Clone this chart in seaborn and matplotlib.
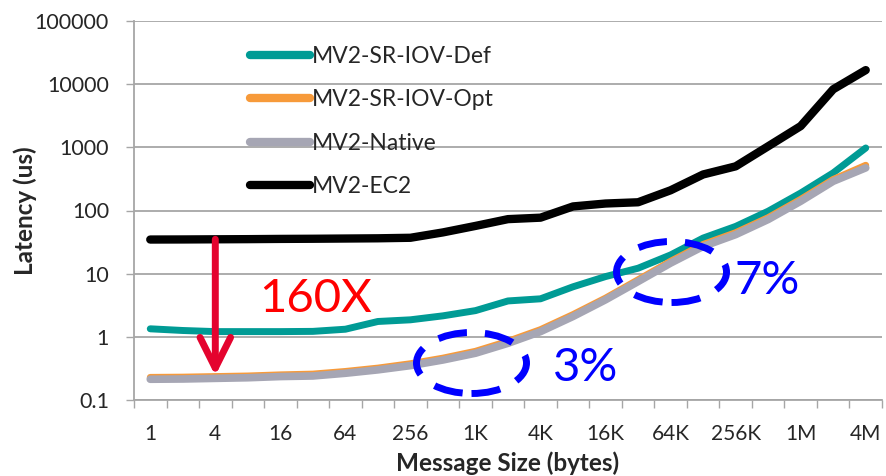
import numpy as np
import pandas as pd
import matplotlib
matplotlib.use("Agg")
import matplotlib.pyplot as plt
import seaborn as sns
from matplotlib.patches import Ellipse

# message sizes (categorical axis)
sizes = ["1", "2", "4", "8", "16", "32", "64", "128", "256", "512",
         "1K", "2K", "4K", "8K", "16K", "32K", "64K", "128K", "256K", "512K",
         "1M", "2M", "4M"]

# latency in us
sriov_def = [1.34, 1.26, 1.21, 1.21, 1.21, 1.22, 1.32, 1.75, 1.86, 2.15,
             2.6, 3.7, 4.0, 6.2, 9.0, 12.2, 19.8, 36.6, 56, 97.5,
             189, 394, 977]
sriov_opt = [0.228, 0.23, 0.235, 0.24, 0.25, 0.257, 0.283, 0.32, 0.375, 0.46,
             0.59, 0.85, 1.3, 2.25, 4.1, 8.0, 15.7, 29, 44.5, 77,
             150, 310, 520]
native = [0.213, 0.215, 0.22, 0.225, 0.235, 0.24, 0.265, 0.3, 0.35, 0.43,
          0.55, 0.79, 1.21, 2.1, 3.86, 7.5, 14.7, 27, 41.5, 72,
          140, 290, 473]
ec2 = [34.7, 34.8, 35, 35.2, 35.5, 35.7, 36, 36.3, 37, 45,
       57, 73, 77, 116, 129, 135, 209, 372, 500, 1040,
       2170, 8300, 16700]

series_names = ["MV2-SR-IOV-Def", "MV2-SR-IOV-Opt", "MV2-Native", "MV2-EC2"]
series_values = [sriov_def, sriov_opt, native, ec2]
colors = ["#009B95", "#F79A3A", "#A6A6B4", "#000000"]
widths = [5.0, 5.0, 5.5, 6.0]

y_ticks = [0.1, 1, 10, 100, 1000, 10000, 100000]
y_ticklabels = ["0.1", "1", "10", "100", "1000", "10000", "100000"]

sns.set_style("white")
plt.rcParams["font.family"] = ["Lato", "DejaVu Sans"]

fig = plt.figure(figsize=(8.86, 4.76), dpi=100)
ax = fig.add_axes([134 / 886, 1 - 400 / 476, 748 / 886, 379 / 476])

grid_c = "#A6A6A6"
x = np.arange(len(sizes))
for name, vals, c, w in zip(series_names, series_values, colors, widths):
    df = pd.DataFrame({"x": x, "latency": vals})
    sns.lineplot(data=df, x="x", y="latency", ax=ax, color=c, linewidth=w,
                 label=name, solid_capstyle="round", solid_joinstyle="round")

ax.set_yscale("log")
ax.set_ylim(0.1, 100000)
ax.set_xlim(-0.5, len(sizes) - 0.5)
ax.set_yticks(y_ticks)
ax.set_yticklabels(y_ticklabels)
ax.yaxis.set_minor_locator(matplotlib.ticker.NullLocator())
ax.yaxis.grid(True, color=grid_c, linewidth=1.3)
ax.set_axisbelow(True)

ax.set_xticks(x[::2])
ax.set_xticklabels(sizes[::2])
ax.set_xticks(np.arange(-0.5, len(sizes)), minor=True)
ax.tick_params(axis="x", which="major", length=0, pad=17, labelsize=15)
ax.tick_params(axis="x", which="minor", length=6, width=1, color=grid_c, direction="out")
ax.tick_params(axis="y", which="major", length=6, width=1, color=grid_c, pad=12, labelsize=15.5)
ax.tick_params(bottom=True, left=True, which="both")

for s in ["top", "right"]:
    ax.spines[s].set_visible(False)
for s in ["left", "bottom"]:
    ax.spines[s].set_color(grid_c)
    ax.spines[s].set_linewidth(1.3)

ax.set_xlabel("Message Size (bytes)", fontsize=17.5, fontweight="bold")
ax.set_ylabel("Latency (us)", fontsize=17.5, fontweight="bold")
ax.xaxis.set_label_coords(0.5, -0.135)
ax.yaxis.set_label_coords(-0.13, 0.5)

leg = ax.legend(loc="upper left", bbox_to_anchor=(250 / 886, 1 - 46 / 476),
                bbox_transform=fig.transFigure, frameon=False, fontsize=16.5,
                handlelength=2.6, handletextpad=0.1, labelspacing=0.98,
                borderpad=0, borderaxespad=0)
for h in leg.get_lines():
    h.set_linewidth(6)
    h.set_solid_capstyle("round")

# 160X arrow
ax.annotate("", xy=(2, native[2] * 1.1), xytext=(2, ec2[2]),
            arrowprops=dict(arrowstyle="->,head_length=2.2,head_width=1.1",
                            color="#E4032E", lw=5, shrinkA=0, shrinkB=0,
                            capstyle="round", joinstyle="round"))
ax.text(0.2433, 0.2665, "160X", transform=ax.transAxes, color="#FF0000",
        fontsize=34, ha="center", va="center")

# dashed ellipses with percentages
blue = "#0000FF"
for cx, cy in [(0.4512, 0.0976), (0.7186, 0.3377)]:
    ax.add_patch(Ellipse((cx, cy), 110 / 748, 61 / 379, transform=ax.transAxes,
                         fill=False, edgecolor=blue, linewidth=5,
                         linestyle=(0, (4.2, 2.6)), zorder=5))
ax.text(0.6043, 0.0844, "3%", transform=ax.transAxes, color=blue,
        fontsize=34, ha="center", va="center")
ax.text(0.8463, 0.314, "7%", transform=ax.transAxes, color=blue,
        fontsize=34, ha="center", va="center")

fig.savefig("out.png", dpi=100)
